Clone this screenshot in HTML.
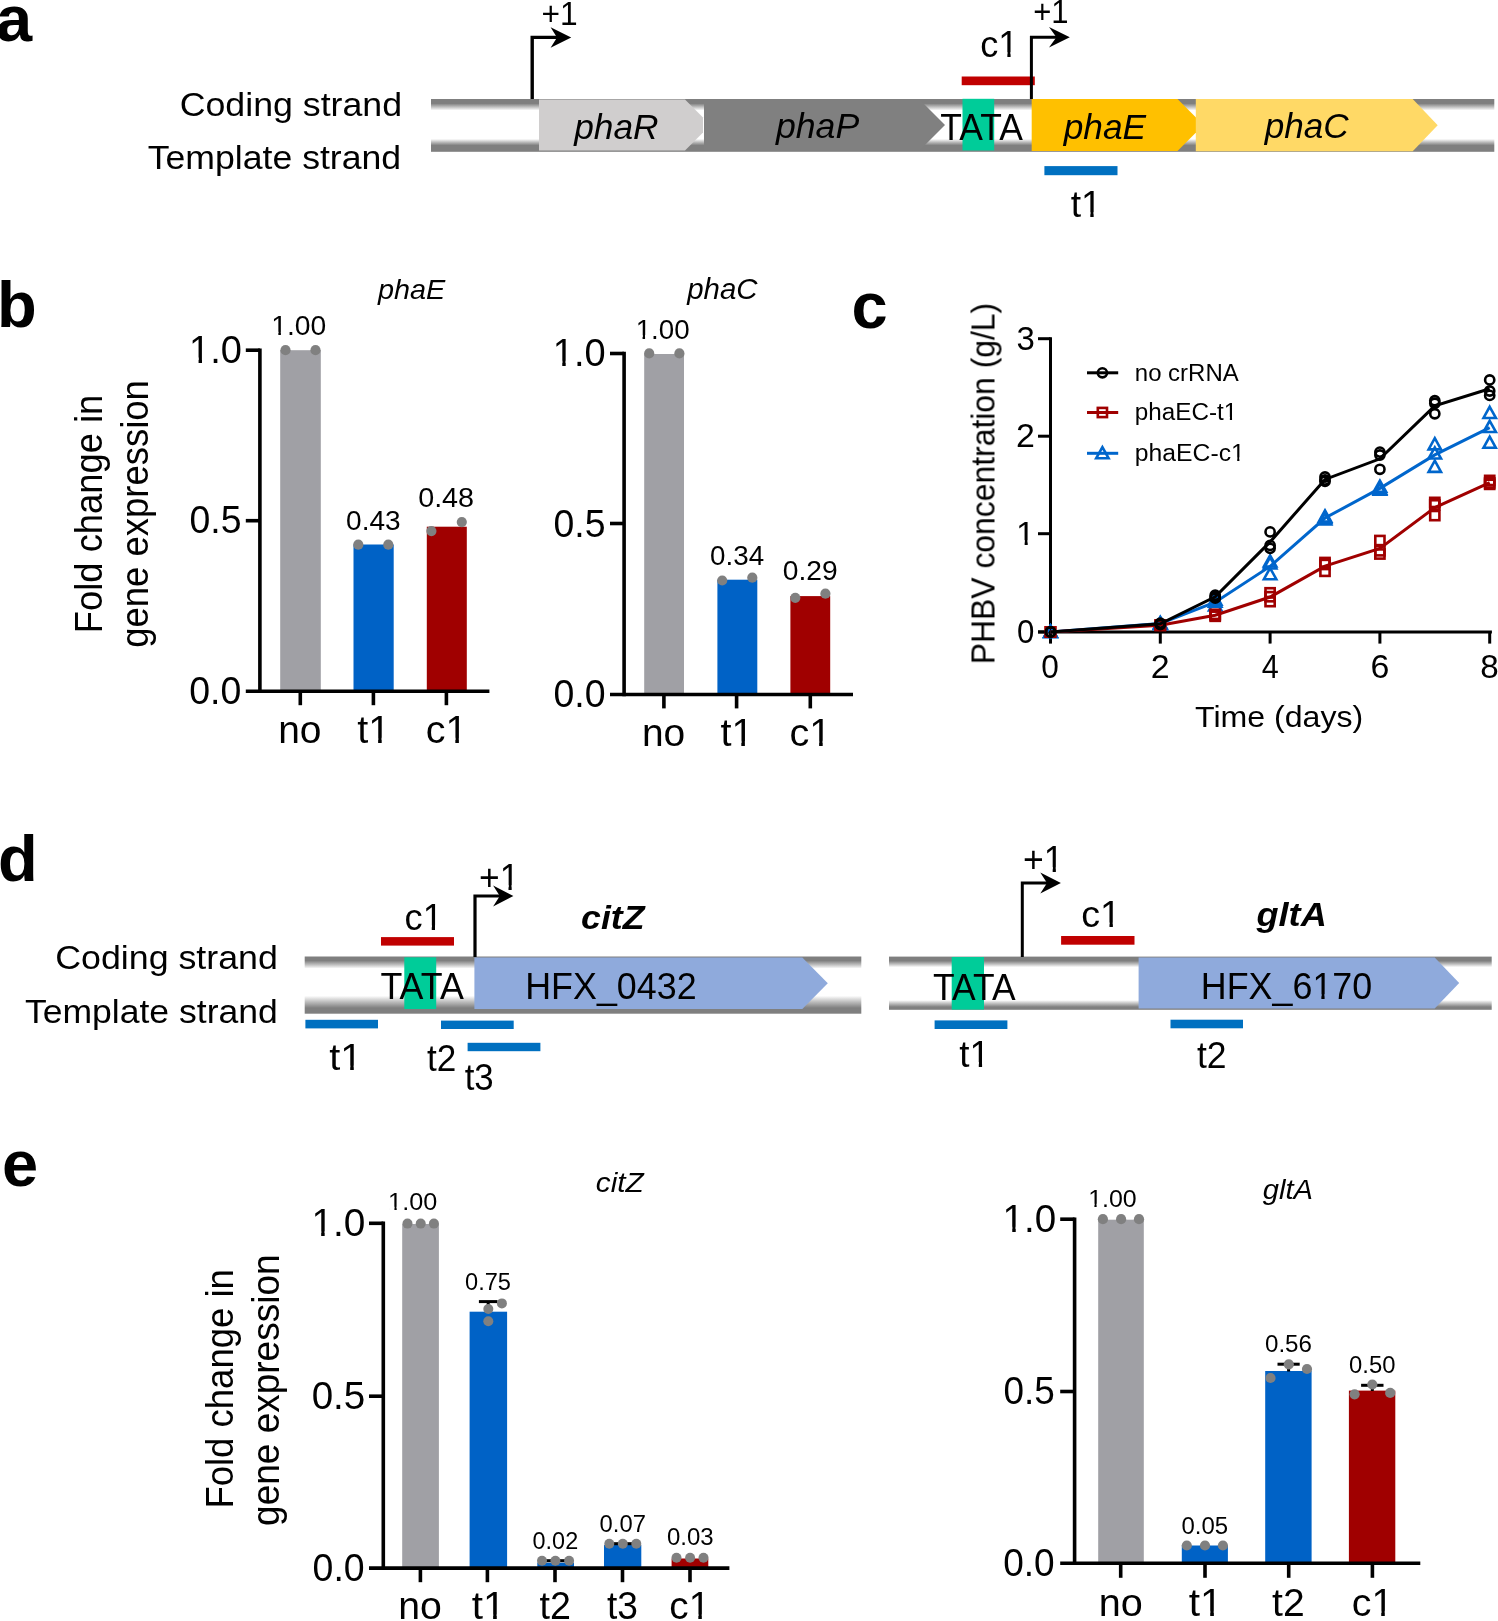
<!DOCTYPE html>
<html><head><meta charset="utf-8"><title>Figure</title>
<style>html,body{margin:0;padding:0;background:#fff;} svg{display:block;} text{font-family:"Liberation Sans",sans-serif;}</style>
</head><body>
<svg width="1498" height="1621" viewBox="0 0 1498 1621">
<defs><clipPath id="clipone0" clipPathUnits="userSpaceOnUse"><rect x="-5000.00" y="-5000.00" width="10000.00" height="4995.21"/><rect x="-5000.00" y="1.10" width="10000.00" height="5000.00"/><rect x="-5000.00" y="-4.79" width="5020.05" height="5.89"/><rect x="27.60" y="-4.79" width="3.31" height="5.89"/><rect x="38.65" y="-4.79" width="4961.35" height="5.89"/></clipPath><clipPath id="clipone1" clipPathUnits="userSpaceOnUse"><rect x="-5000.00" y="-5000.00" width="10000.00" height="4995.21"/><rect x="-5000.00" y="1.10" width="10000.00" height="5000.00"/><rect x="-5000.00" y="-4.79" width="5011.88" height="5.89"/><rect x="19.42" y="-4.79" width="3.31" height="5.89"/><rect x="30.47" y="-4.79" width="4969.53" height="5.89"/></clipPath><clipPath id="clipone2" clipPathUnits="userSpaceOnUse"><rect x="-5000.00" y="-5000.00" width="10000.00" height="4995.03"/><rect x="-5000.00" y="1.15" width="10000.00" height="5000.00"/><rect x="-5000.00" y="-4.97" width="5001.72" height="6.11"/><rect x="9.55" y="-4.97" width="3.44" height="6.11"/><rect x="21.01" y="-4.97" width="4978.99" height="6.11"/></clipPath><clipPath id="clipone3" clipPathUnits="userSpaceOnUse"><rect x="-5000.00" y="-5000.00" width="10000.00" height="4996.39"/><rect x="-5000.00" y="0.83" width="10000.00" height="5000.00"/><rect x="-5000.00" y="-3.61" width="5001.25" height="4.44"/><rect x="6.94" y="-3.61" width="2.50" height="4.44"/><rect x="15.27" y="-3.61" width="4984.73" height="4.44"/></clipPath><clipPath id="clipone4" clipPathUnits="userSpaceOnUse"><rect x="-5000.00" y="-5000.00" width="10000.00" height="4994.95"/><rect x="-5000.00" y="1.17" width="10000.00" height="5000.00"/><rect x="-5000.00" y="-5.05" width="5012.53" height="6.22"/><rect x="20.50" y="-5.05" width="3.50" height="6.22"/><rect x="32.16" y="-5.05" width="4967.84" height="6.22"/></clipPath><clipPath id="clipone5" clipPathUnits="userSpaceOnUse"><rect x="-5000.00" y="-5000.00" width="10000.00" height="4994.95"/><rect x="-5000.00" y="1.17" width="10000.00" height="5000.00"/><rect x="-5000.00" y="-5.05" width="5021.17" height="6.22"/><rect x="29.14" y="-5.05" width="3.50" height="6.22"/><rect x="40.80" y="-5.05" width="4959.20" height="6.22"/></clipPath><clipPath id="clipone6" clipPathUnits="userSpaceOnUse"><rect x="-5000.00" y="-5000.00" width="10000.00" height="4995.03"/><rect x="-5000.00" y="1.15" width="10000.00" height="5000.00"/><rect x="-5000.00" y="-4.97" width="5001.72" height="6.11"/><rect x="9.55" y="-4.97" width="3.44" height="6.11"/><rect x="21.01" y="-4.97" width="4978.99" height="6.11"/></clipPath><clipPath id="clipone7" clipPathUnits="userSpaceOnUse"><rect x="-5000.00" y="-5000.00" width="10000.00" height="4996.39"/><rect x="-5000.00" y="0.83" width="10000.00" height="5000.00"/><rect x="-5000.00" y="-3.61" width="5001.25" height="4.44"/><rect x="6.94" y="-3.61" width="2.50" height="4.44"/><rect x="15.27" y="-3.61" width="4984.73" height="4.44"/></clipPath><clipPath id="clipone8" clipPathUnits="userSpaceOnUse"><rect x="-5000.00" y="-5000.00" width="10000.00" height="4994.95"/><rect x="-5000.00" y="1.17" width="10000.00" height="5000.00"/><rect x="-5000.00" y="-5.05" width="5012.53" height="6.22"/><rect x="20.50" y="-5.05" width="3.50" height="6.22"/><rect x="32.16" y="-5.05" width="4967.84" height="6.22"/></clipPath><clipPath id="clipone9" clipPathUnits="userSpaceOnUse"><rect x="-5000.00" y="-5000.00" width="10000.00" height="4994.95"/><rect x="-5000.00" y="1.17" width="10000.00" height="5000.00"/><rect x="-5000.00" y="-5.05" width="5021.17" height="6.22"/><rect x="29.14" y="-5.05" width="3.50" height="6.22"/><rect x="40.80" y="-5.05" width="4959.20" height="6.22"/></clipPath><clipPath id="clipone10" clipPathUnits="userSpaceOnUse"><rect x="-5000.00" y="-5000.00" width="10000.00" height="4995.61"/><rect x="-5000.00" y="1.01" width="10000.00" height="5000.00"/><rect x="-5000.00" y="-4.39" width="5001.52" height="5.40"/><rect x="8.44" y="-4.39" width="3.04" height="5.40"/><rect x="18.56" y="-4.39" width="4981.44" height="5.40"/></clipPath><clipPath id="clipone11" clipPathUnits="userSpaceOnUse"><rect x="-5000.00" y="-5000.00" width="10000.00" height="4996.82"/><rect x="-5000.00" y="0.73" width="10000.00" height="5000.00"/><rect x="-5000.00" y="-3.18" width="5090.91" height="3.92"/><rect x="95.93" y="-3.18" width="2.20" height="3.92"/><rect x="103.28" y="-3.18" width="4896.72" height="3.92"/></clipPath><clipPath id="clipone12" clipPathUnits="userSpaceOnUse"><rect x="-5000.00" y="-5000.00" width="10000.00" height="4996.82"/><rect x="-5000.00" y="0.73" width="10000.00" height="5000.00"/><rect x="-5000.00" y="-3.18" width="5096.33" height="3.92"/><rect x="101.35" y="-3.18" width="2.20" height="3.92"/><rect x="108.70" y="-3.18" width="4891.30" height="3.92"/></clipPath><clipPath id="clipone13" clipPathUnits="userSpaceOnUse"><rect x="-5000.00" y="-5000.00" width="10000.00" height="4995.21"/><rect x="-5000.00" y="1.10" width="10000.00" height="5000.00"/><rect x="-5000.00" y="-4.79" width="5020.06" height="5.89"/><rect x="27.60" y="-4.79" width="3.31" height="5.89"/><rect x="38.65" y="-4.79" width="4961.35" height="5.89"/></clipPath><clipPath id="clipone14" clipPathUnits="userSpaceOnUse"><rect x="-5000.00" y="-5000.00" width="10000.00" height="4995.18"/><rect x="-5000.00" y="1.11" width="10000.00" height="5000.00"/><rect x="-5000.00" y="-4.82" width="5023.31" height="5.94"/><rect x="30.92" y="-4.82" width="3.34" height="5.94"/><rect x="42.05" y="-4.82" width="4957.95" height="5.94"/></clipPath><clipPath id="clipone15" clipPathUnits="userSpaceOnUse"><rect x="-5000.00" y="-5000.00" width="10000.00" height="4995.21"/><rect x="-5000.00" y="1.10" width="10000.00" height="5000.00"/><rect x="-5000.00" y="-4.79" width="5011.87" height="5.89"/><rect x="19.42" y="-4.79" width="3.31" height="5.89"/><rect x="30.46" y="-4.79" width="4969.54" height="5.89"/></clipPath><clipPath id="clipone16" clipPathUnits="userSpaceOnUse"><rect x="-5000.00" y="-5000.00" width="10000.00" height="4995.16"/><rect x="-5000.00" y="1.12" width="10000.00" height="5000.00"/><rect x="-5000.00" y="-4.84" width="5023.41" height="5.96"/><rect x="31.04" y="-4.84" width="3.35" height="5.96"/><rect x="42.22" y="-4.84" width="4957.78" height="5.96"/></clipPath><clipPath id="clipone17" clipPathUnits="userSpaceOnUse"><rect x="-5000.00" y="-5000.00" width="10000.00" height="4995.21"/><rect x="-5000.00" y="1.10" width="10000.00" height="5000.00"/><rect x="-5000.00" y="-4.79" width="5020.06" height="5.89"/><rect x="27.60" y="-4.79" width="3.31" height="5.89"/><rect x="38.65" y="-4.79" width="4961.35" height="5.89"/></clipPath><clipPath id="clipone18" clipPathUnits="userSpaceOnUse"><rect x="-5000.00" y="-5000.00" width="10000.00" height="4995.21"/><rect x="-5000.00" y="1.10" width="10000.00" height="5000.00"/><rect x="-5000.00" y="-4.79" width="5116.20" height="5.89"/><rect x="123.75" y="-4.79" width="3.31" height="5.89"/><rect x="134.79" y="-4.79" width="4865.21" height="5.89"/></clipPath><clipPath id="clipone19" clipPathUnits="userSpaceOnUse"><rect x="-5000.00" y="-5000.00" width="10000.00" height="4995.21"/><rect x="-5000.00" y="1.10" width="10000.00" height="5000.00"/><rect x="-5000.00" y="-4.79" width="5011.88" height="5.89"/><rect x="19.42" y="-4.79" width="3.31" height="5.89"/><rect x="30.47" y="-4.79" width="4969.53" height="5.89"/></clipPath><clipPath id="clipone20" clipPathUnits="userSpaceOnUse"><rect x="-5000.00" y="-5000.00" width="10000.00" height="4995.03"/><rect x="-5000.00" y="1.15" width="10000.00" height="5000.00"/><rect x="-5000.00" y="-4.97" width="5001.72" height="6.11"/><rect x="9.55" y="-4.97" width="3.44" height="6.11"/><rect x="21.01" y="-4.97" width="4978.99" height="6.11"/></clipPath><clipPath id="clipone21" clipPathUnits="userSpaceOnUse"><rect x="-5000.00" y="-5000.00" width="10000.00" height="4996.93"/><rect x="-5000.00" y="0.71" width="10000.00" height="5000.00"/><rect x="-5000.00" y="-3.07" width="5001.06" height="3.78"/><rect x="5.90" y="-3.07" width="2.13" height="3.78"/><rect x="12.99" y="-3.07" width="4987.01" height="3.78"/></clipPath><clipPath id="clipone22" clipPathUnits="userSpaceOnUse"><rect x="-5000.00" y="-5000.00" width="10000.00" height="4994.95"/><rect x="-5000.00" y="1.17" width="10000.00" height="5000.00"/><rect x="-5000.00" y="-5.05" width="5012.54" height="6.22"/><rect x="20.51" y="-5.05" width="3.50" height="6.22"/><rect x="32.17" y="-5.05" width="4967.83" height="6.22"/></clipPath><clipPath id="clipone23" clipPathUnits="userSpaceOnUse"><rect x="-5000.00" y="-5000.00" width="10000.00" height="4994.95"/><rect x="-5000.00" y="1.17" width="10000.00" height="5000.00"/><rect x="-5000.00" y="-5.05" width="5021.18" height="6.22"/><rect x="29.14" y="-5.05" width="3.50" height="6.22"/><rect x="40.80" y="-5.05" width="4959.20" height="6.22"/></clipPath><clipPath id="clipone24" clipPathUnits="userSpaceOnUse"><rect x="-5000.00" y="-5000.00" width="10000.00" height="4995.03"/><rect x="-5000.00" y="1.15" width="10000.00" height="5000.00"/><rect x="-5000.00" y="-4.97" width="5001.72" height="6.11"/><rect x="9.55" y="-4.97" width="3.44" height="6.11"/><rect x="21.01" y="-4.97" width="4978.99" height="6.11"/></clipPath><clipPath id="clipone25" clipPathUnits="userSpaceOnUse"><rect x="-5000.00" y="-5000.00" width="10000.00" height="4996.93"/><rect x="-5000.00" y="0.71" width="10000.00" height="5000.00"/><rect x="-5000.00" y="-3.07" width="5001.06" height="3.78"/><rect x="5.90" y="-3.07" width="2.13" height="3.78"/><rect x="12.99" y="-3.07" width="4987.01" height="3.78"/></clipPath><clipPath id="clipone26" clipPathUnits="userSpaceOnUse"><rect x="-5000.00" y="-5000.00" width="10000.00" height="4994.95"/><rect x="-5000.00" y="1.17" width="10000.00" height="5000.00"/><rect x="-5000.00" y="-5.05" width="5012.54" height="6.22"/><rect x="20.51" y="-5.05" width="3.50" height="6.22"/><rect x="32.17" y="-5.05" width="4967.83" height="6.22"/></clipPath><clipPath id="clipone27" clipPathUnits="userSpaceOnUse"><rect x="-5000.00" y="-5000.00" width="10000.00" height="4994.95"/><rect x="-5000.00" y="1.17" width="10000.00" height="5000.00"/><rect x="-5000.00" y="-5.05" width="5021.17" height="6.22"/><rect x="29.14" y="-5.05" width="3.50" height="6.22"/><rect x="40.80" y="-5.05" width="4959.20" height="6.22"/></clipPath><linearGradient id="gt1" x1="0" y1="0" x2="0" y2="1"><stop offset="0" stop-color="#7f7f7f"/><stop offset="0.39" stop-color="#7f7f7f"/><stop offset="0.69" stop-color="#bdbdbd"/><stop offset="1" stop-color="#fff"/></linearGradient><linearGradient id="gb1" x1="0" y1="0" x2="0" y2="1"><stop offset="0" stop-color="#fff"/><stop offset="0.25" stop-color="#bdbdbd"/><stop offset="0.5" stop-color="#7f7f7f"/><stop offset="1" stop-color="#7f7f7f"/></linearGradient><linearGradient id="gt2" x1="0" y1="0" x2="0" y2="1"><stop offset="0" stop-color="#7f7f7f"/><stop offset="0.34" stop-color="#7f7f7f"/><stop offset="0.67" stop-color="#bdbdbd"/><stop offset="1" stop-color="#fff"/></linearGradient><linearGradient id="gb2" x1="0" y1="0" x2="0" y2="1"><stop offset="0" stop-color="#fff"/><stop offset="0.34" stop-color="#bdbdbd"/><stop offset="0.68" stop-color="#7f7f7f"/><stop offset="1" stop-color="#7f7f7f"/></linearGradient><linearGradient id="gt3" x1="0" y1="0" x2="0" y2="1"><stop offset="0" stop-color="#7f7f7f"/><stop offset="0.4" stop-color="#7f7f7f"/><stop offset="0.7" stop-color="#bdbdbd"/><stop offset="1" stop-color="#fff"/></linearGradient><linearGradient id="gb3" x1="0" y1="0" x2="0" y2="1"><stop offset="0" stop-color="#fff"/><stop offset="0.36" stop-color="#bdbdbd"/><stop offset="0.71" stop-color="#7f7f7f"/><stop offset="1" stop-color="#7f7f7f"/></linearGradient></defs>
<rect width="1498" height="1621" fill="#fff"/>
<rect x="431" y="99" width="1063.3" height="11.4" fill="url(#gt1)"/>
<rect x="431" y="138.9" width="1063.3" height="12.9" fill="url(#gb1)"/>
<polygon points="539,99.5 685,99.5 703,117.5 703,132.5 685,150.5 539,150.5" fill="#d0cece"/>
<polygon points="704,99.5 919.5,99.5 945,125 919.5,150.5 704,150.5" fill="#808080"/>
<rect x="962.5" y="98.8" width="31.7" height="51.7" fill="#00cc99"/>
<polygon points="1031.7,99.1 1177.5,99.1 1196,117.6 1196,132.6 1177.5,151.1 1031.7,151.1" fill="#ffc000"/>
<polygon points="1195.8,99.1 1412.7,99.1 1437.7,125.2 1412.7,151.3 1195.8,151.3" fill="#ffd966"/>
<rect x="961.7" y="76.5" width="73.1" height="8.7" fill="#c00000"/>
<rect x="1044.4" y="166.1" width="73.1" height="9.1" fill="#0070c0"/>
<path d="M532.2,99 V37.4 H558" fill="none" stroke="#000" stroke-width="3.4" stroke-linejoin="miter"/>
<polygon points="550.6,27.15 571.2,37.4 550.6,47.65 557,37.4" fill="#000"/>
<path d="M1031.4,99 V37.3 H1057.4" fill="none" stroke="#000" stroke-width="3" stroke-linejoin="miter"/>
<polygon points="1049,27.1 1069.8,37.3 1049,47.5 1056.4,37.3" fill="#000"/>
<rect x="280.2" y="350.2" width="40.6" height="341.1" fill="#a0a0a5"/>
<rect x="353.5" y="544.5" width="40.2" height="146.8" fill="#0062c6"/>
<rect x="426.8" y="526.7" width="40" height="164.6" fill="#a00000"/>
<circle cx="285.5" cy="350.2" r="5.1" fill="#808080"/>
<circle cx="315.5" cy="350.2" r="5.1" fill="#808080"/>
<circle cx="358.3" cy="544.7" r="5.1" fill="#808080"/>
<circle cx="388.3" cy="544.7" r="5.1" fill="#808080"/>
<circle cx="431.4" cy="531.1" r="5.1" fill="#808080"/>
<circle cx="461.8" cy="522.1" r="5.1" fill="#808080"/>
<line x1="259.9" y1="348.4" x2="259.9" y2="693.1" stroke="#000" stroke-width="3.6" stroke-linecap="butt"/>
<line x1="245.8" y1="691.3" x2="489.4" y2="691.3" stroke="#000" stroke-width="3.6" stroke-linecap="butt"/>
<line x1="245.8" y1="350.2" x2="259.9" y2="350.2" stroke="#000" stroke-width="3.6" stroke-linecap="butt"/>
<line x1="245.8" y1="520.7" x2="259.9" y2="520.7" stroke="#000" stroke-width="3.6" stroke-linecap="butt"/>
<line x1="300.3" y1="691.3" x2="300.3" y2="705.2" stroke="#000" stroke-width="3.6" stroke-linecap="butt"/>
<line x1="373.4" y1="691.3" x2="373.4" y2="705.2" stroke="#000" stroke-width="3.6" stroke-linecap="butt"/>
<line x1="446.4" y1="691.3" x2="446.4" y2="705.2" stroke="#000" stroke-width="3.6" stroke-linecap="butt"/>
<rect x="644.2" y="354" width="39.8" height="340.5" fill="#a0a0a5"/>
<rect x="717.4" y="579.7" width="39.9" height="114.8" fill="#0062c6"/>
<rect x="790.4" y="596.1" width="39.8" height="98.4" fill="#a00000"/>
<circle cx="649.2" cy="353.4" r="5.1" fill="#808080"/>
<circle cx="679.4" cy="353.4" r="5.1" fill="#808080"/>
<circle cx="722.2" cy="580.5" r="5.1" fill="#808080"/>
<circle cx="752.3" cy="577.7" r="5.1" fill="#808080"/>
<circle cx="795.3" cy="597.8" r="5.1" fill="#808080"/>
<circle cx="825.4" cy="593.7" r="5.1" fill="#808080"/>
<line x1="624.1" y1="351.7" x2="624.1" y2="696.3" stroke="#000" stroke-width="3.6" stroke-linecap="butt"/>
<line x1="610" y1="694.5" x2="853" y2="694.5" stroke="#000" stroke-width="3.6" stroke-linecap="butt"/>
<line x1="610" y1="353.5" x2="624.1" y2="353.5" stroke="#000" stroke-width="3.6" stroke-linecap="butt"/>
<line x1="610" y1="523.5" x2="624.1" y2="523.5" stroke="#000" stroke-width="3.6" stroke-linecap="butt"/>
<line x1="663.9" y1="694.5" x2="663.9" y2="708.4" stroke="#000" stroke-width="3.6" stroke-linecap="butt"/>
<line x1="736.6" y1="694.5" x2="736.6" y2="708.4" stroke="#000" stroke-width="3.6" stroke-linecap="butt"/>
<line x1="810.3" y1="694.5" x2="810.3" y2="708.4" stroke="#000" stroke-width="3.6" stroke-linecap="butt"/>
<line x1="1050.5" y1="337.2" x2="1050.5" y2="633.4" stroke="#000" stroke-width="3" stroke-linecap="butt"/>
<line x1="1038" y1="631.9" x2="1491.9" y2="631.9" stroke="#000" stroke-width="3" stroke-linecap="butt"/>
<line x1="1038" y1="338.7" x2="1050.5" y2="338.7" stroke="#000" stroke-width="3" stroke-linecap="butt"/>
<line x1="1038" y1="436.2" x2="1050.5" y2="436.2" stroke="#000" stroke-width="3" stroke-linecap="butt"/>
<line x1="1038" y1="533.7" x2="1050.5" y2="533.7" stroke="#000" stroke-width="3" stroke-linecap="butt"/>
<line x1="1038" y1="631.9" x2="1050.5" y2="631.9" stroke="#000" stroke-width="3" stroke-linecap="butt"/>
<line x1="1050.5" y1="631.9" x2="1050.5" y2="643.6" stroke="#000" stroke-width="3" stroke-linecap="butt"/>
<line x1="1160.3" y1="631.9" x2="1160.3" y2="643.6" stroke="#000" stroke-width="3" stroke-linecap="butt"/>
<line x1="1270.1" y1="631.9" x2="1270.1" y2="643.6" stroke="#000" stroke-width="3" stroke-linecap="butt"/>
<line x1="1379.9" y1="631.9" x2="1379.9" y2="643.6" stroke="#000" stroke-width="3" stroke-linecap="butt"/>
<line x1="1489.7" y1="631.9" x2="1489.7" y2="643.6" stroke="#000" stroke-width="3" stroke-linecap="butt"/>
<polyline points="1050.5,631.9 1160.3,623.59 1215.2,602.26 1270.1,566.42 1325,518.04 1379.9,488.4 1434.8,454.91 1489.7,427.58" fill="none" stroke="#0066cc" stroke-width="3" stroke-linejoin="miter"/>
<polygon points="1050.5,625.7 1056.7,636.9 1044.3,636.9" fill="none" stroke="#0066cc" stroke-width="2.6" stroke-linejoin="miter"/>
<polygon points="1050.5,625.7 1056.7,636.9 1044.3,636.9" fill="none" stroke="#0066cc" stroke-width="2.6" stroke-linejoin="miter"/>
<polygon points="1050.5,625.7 1056.7,636.9 1044.3,636.9" fill="none" stroke="#0066cc" stroke-width="2.6" stroke-linejoin="miter"/>
<polygon points="1160.3,616.9 1166.5,628.1 1154.1,628.1" fill="none" stroke="#0066cc" stroke-width="2.6" stroke-linejoin="miter"/>
<polygon points="1160.3,617.39 1166.5,628.59 1154.1,628.59" fill="none" stroke="#0066cc" stroke-width="2.6" stroke-linejoin="miter"/>
<polygon points="1160.3,617.88 1166.5,629.08 1154.1,629.08" fill="none" stroke="#0066cc" stroke-width="2.6" stroke-linejoin="miter"/>
<polygon points="1215.2,593.45 1221.4,604.65 1209,604.65" fill="none" stroke="#0066cc" stroke-width="2.6" stroke-linejoin="miter"/>
<polygon points="1215.2,595.4 1221.4,606.6 1209,606.6" fill="none" stroke="#0066cc" stroke-width="2.6" stroke-linejoin="miter"/>
<polygon points="1215.2,599.31 1221.4,610.51 1209,610.51" fill="none" stroke="#0066cc" stroke-width="2.6" stroke-linejoin="miter"/>
<polygon points="1270.1,555.33 1276.3,566.53 1263.9,566.53" fill="none" stroke="#0066cc" stroke-width="2.6" stroke-linejoin="miter"/>
<polygon points="1270.1,557.29 1276.3,568.49 1263.9,568.49" fill="none" stroke="#0066cc" stroke-width="2.6" stroke-linejoin="miter"/>
<polygon points="1270.1,568.04 1276.3,579.24 1263.9,579.24" fill="none" stroke="#0066cc" stroke-width="2.6" stroke-linejoin="miter"/>
<polygon points="1325,510.38 1331.2,521.58 1318.8,521.58" fill="none" stroke="#0066cc" stroke-width="2.6" stroke-linejoin="miter"/>
<polygon points="1325,511.84 1331.2,523.04 1318.8,523.04" fill="none" stroke="#0066cc" stroke-width="2.6" stroke-linejoin="miter"/>
<polygon points="1325,513.31 1331.2,524.51 1318.8,524.51" fill="none" stroke="#0066cc" stroke-width="2.6" stroke-linejoin="miter"/>
<polygon points="1379.9,480.57 1386.1,491.77 1373.7,491.77" fill="none" stroke="#0066cc" stroke-width="2.6" stroke-linejoin="miter"/>
<polygon points="1379.9,482.53 1386.1,493.73 1373.7,493.73" fill="none" stroke="#0066cc" stroke-width="2.6" stroke-linejoin="miter"/>
<polygon points="1379.9,483.5 1386.1,494.7 1373.7,494.7" fill="none" stroke="#0066cc" stroke-width="2.6" stroke-linejoin="miter"/>
<polygon points="1434.8,438.16 1441,449.36 1428.6,449.36" fill="none" stroke="#0066cc" stroke-width="2.6" stroke-linejoin="miter"/>
<polygon points="1434.8,447.34 1441,458.54 1428.6,458.54" fill="none" stroke="#0066cc" stroke-width="2.6" stroke-linejoin="miter"/>
<polygon points="1434.8,460.63 1441,471.83 1428.6,471.83" fill="none" stroke="#0066cc" stroke-width="2.6" stroke-linejoin="miter"/>
<polygon points="1489.7,406.78 1495.9,417.98 1483.5,417.98" fill="none" stroke="#0066cc" stroke-width="2.6" stroke-linejoin="miter"/>
<polygon points="1489.7,420.76 1495.9,431.96 1483.5,431.96" fill="none" stroke="#0066cc" stroke-width="2.6" stroke-linejoin="miter"/>
<polygon points="1489.7,436.59 1495.9,447.79 1483.5,447.79" fill="none" stroke="#0066cc" stroke-width="2.6" stroke-linejoin="miter"/>
<polyline points="1050.5,631.9 1160.3,625.22 1215.2,615.29 1270.1,597.04 1325,566.1 1379.9,548.44 1434.8,507.62 1489.7,482.54" fill="none" stroke="#a00000" stroke-width="3" stroke-linejoin="miter"/>
<rect x="1045.9" y="627.3" width="9.2" height="9.2" fill="none" stroke="#a00000" stroke-width="2.6"/>
<rect x="1045.9" y="627.3" width="9.2" height="9.2" fill="none" stroke="#a00000" stroke-width="2.6"/>
<rect x="1045.9" y="627.3" width="9.2" height="9.2" fill="none" stroke="#a00000" stroke-width="2.6"/>
<rect x="1155.7" y="620.46" width="9.2" height="9.2" fill="none" stroke="#a00000" stroke-width="2.6"/>
<rect x="1155.7" y="620.46" width="9.2" height="9.2" fill="none" stroke="#a00000" stroke-width="2.6"/>
<rect x="1155.7" y="620.95" width="9.2" height="9.2" fill="none" stroke="#a00000" stroke-width="2.6"/>
<rect x="1210.6" y="609.71" width="9.2" height="9.2" fill="none" stroke="#a00000" stroke-width="2.6"/>
<rect x="1210.6" y="610.69" width="9.2" height="9.2" fill="none" stroke="#a00000" stroke-width="2.6"/>
<rect x="1210.6" y="611.66" width="9.2" height="9.2" fill="none" stroke="#a00000" stroke-width="2.6"/>
<rect x="1265.5" y="588.21" width="9.2" height="9.2" fill="none" stroke="#a00000" stroke-width="2.6"/>
<rect x="1265.5" y="592.12" width="9.2" height="9.2" fill="none" stroke="#a00000" stroke-width="2.6"/>
<rect x="1265.5" y="597" width="9.2" height="9.2" fill="none" stroke="#a00000" stroke-width="2.6"/>
<rect x="1320.4" y="557.91" width="9.2" height="9.2" fill="none" stroke="#a00000" stroke-width="2.6"/>
<rect x="1320.4" y="559.87" width="9.2" height="9.2" fill="none" stroke="#a00000" stroke-width="2.6"/>
<rect x="1320.4" y="566.71" width="9.2" height="9.2" fill="none" stroke="#a00000" stroke-width="2.6"/>
<rect x="1375.3" y="535.92" width="9.2" height="9.2" fill="none" stroke="#a00000" stroke-width="2.6"/>
<rect x="1375.3" y="546.18" width="9.2" height="9.2" fill="none" stroke="#a00000" stroke-width="2.6"/>
<rect x="1375.3" y="549.41" width="9.2" height="9.2" fill="none" stroke="#a00000" stroke-width="2.6"/>
<rect x="1430.2" y="497.81" width="9.2" height="9.2" fill="none" stroke="#a00000" stroke-width="2.6"/>
<rect x="1430.2" y="500.25" width="9.2" height="9.2" fill="none" stroke="#a00000" stroke-width="2.6"/>
<rect x="1430.2" y="511" width="9.2" height="9.2" fill="none" stroke="#a00000" stroke-width="2.6"/>
<rect x="1485.1" y="475.82" width="9.2" height="9.2" fill="none" stroke="#a00000" stroke-width="2.6"/>
<rect x="1485.1" y="478.26" width="9.2" height="9.2" fill="none" stroke="#a00000" stroke-width="2.6"/>
<rect x="1485.1" y="479.73" width="9.2" height="9.2" fill="none" stroke="#a00000" stroke-width="2.6"/>
<polyline points="1050.5,631.9 1160.3,623.82 1215.2,596.88 1270.1,541.89 1325,479.44 1379.9,458.79 1434.8,405.92 1489.7,388.78" fill="none" stroke="#000" stroke-width="3" stroke-linejoin="miter"/>
<circle cx="1050.5" cy="631.9" r="4.6" fill="none" stroke="#000" stroke-width="2.6"/>
<circle cx="1050.5" cy="631.9" r="4.6" fill="none" stroke="#000" stroke-width="2.6"/>
<circle cx="1050.5" cy="631.9" r="4.6" fill="none" stroke="#000" stroke-width="2.6"/>
<circle cx="1160.3" cy="624.57" r="4.6" fill="none" stroke="#000" stroke-width="2.6"/>
<circle cx="1160.3" cy="623.1" r="4.6" fill="none" stroke="#000" stroke-width="2.6"/>
<circle cx="1160.3" cy="623.79" r="4.6" fill="none" stroke="#000" stroke-width="2.6"/>
<circle cx="1215.2" cy="595.25" r="4.6" fill="none" stroke="#000" stroke-width="2.6"/>
<circle cx="1215.2" cy="597.21" r="4.6" fill="none" stroke="#000" stroke-width="2.6"/>
<circle cx="1215.2" cy="598.18" r="4.6" fill="none" stroke="#000" stroke-width="2.6"/>
<circle cx="1270.1" cy="531.92" r="4.6" fill="none" stroke="#000" stroke-width="2.6"/>
<circle cx="1270.1" cy="545.41" r="4.6" fill="none" stroke="#000" stroke-width="2.6"/>
<circle cx="1270.1" cy="548.34" r="4.6" fill="none" stroke="#000" stroke-width="2.6"/>
<circle cx="1325" cy="477" r="4.6" fill="none" stroke="#000" stroke-width="2.6"/>
<circle cx="1325" cy="479.93" r="4.6" fill="none" stroke="#000" stroke-width="2.6"/>
<circle cx="1325" cy="481.4" r="4.6" fill="none" stroke="#000" stroke-width="2.6"/>
<circle cx="1379.9" cy="452.08" r="4.6" fill="none" stroke="#000" stroke-width="2.6"/>
<circle cx="1379.9" cy="455.01" r="4.6" fill="none" stroke="#000" stroke-width="2.6"/>
<circle cx="1379.9" cy="469.28" r="4.6" fill="none" stroke="#000" stroke-width="2.6"/>
<circle cx="1434.8" cy="400.77" r="4.6" fill="none" stroke="#000" stroke-width="2.6"/>
<circle cx="1434.8" cy="403.21" r="4.6" fill="none" stroke="#000" stroke-width="2.6"/>
<circle cx="1434.8" cy="413.77" r="4.6" fill="none" stroke="#000" stroke-width="2.6"/>
<circle cx="1489.7" cy="379.95" r="4.6" fill="none" stroke="#000" stroke-width="2.6"/>
<circle cx="1489.7" cy="391" r="4.6" fill="none" stroke="#000" stroke-width="2.6"/>
<circle cx="1489.7" cy="395.39" r="4.6" fill="none" stroke="#000" stroke-width="2.6"/>
<line x1="1087" y1="372.8" x2="1118.2" y2="372.8" stroke="#000" stroke-width="3" stroke-linecap="butt"/>
<circle cx="1102.4" cy="372.8" r="4.6" fill="none" stroke="#000" stroke-width="2.6"/>
<line x1="1087" y1="412.5" x2="1118.2" y2="412.5" stroke="#a00000" stroke-width="3" stroke-linecap="butt"/>
<rect x="1097.8" y="407.9" width="9.2" height="9.2" fill="none" stroke="#a00000" stroke-width="2.6"/>
<line x1="1087" y1="453.3" x2="1118.2" y2="453.3" stroke="#0066cc" stroke-width="3" stroke-linecap="butt"/>
<polygon points="1102.4,447.1 1108.6,458.3 1096.2,458.3" fill="none" stroke="#0066cc" stroke-width="2.6" stroke-linejoin="miter"/>
<rect x="304.7" y="956.5" width="556.6" height="12.1" fill="url(#gt2)"/>
<rect x="304.7" y="995.8" width="556.6" height="17.9" fill="url(#gb2)"/>
<rect x="404.3" y="957.3" width="31.9" height="51.7" fill="#00cc99"/>
<polygon points="474.4,957.5 802.3,957.5 827.8,983.2 802.3,1009 474.4,1009" fill="#8faadc"/>
<rect x="381" y="937.1" width="73" height="8.5" fill="#c00000"/>
<rect x="305.4" y="1019.8" width="72.6" height="8.6" fill="#0070c0"/>
<rect x="441" y="1020.6" width="72.7" height="8.4" fill="#0070c0"/>
<rect x="467.6" y="1042.8" width="72.8" height="8.4" fill="#0070c0"/>
<path d="M475,957 V896 H500.8" fill="none" stroke="#000" stroke-width="3.2" stroke-linejoin="miter"/>
<polygon points="493.1,885.55 513.4,896 493.1,906.45 499.8,896" fill="#000"/>
<rect x="889" y="956.6" width="602.7" height="10.6" fill="url(#gt3)"/>
<rect x="889" y="1000.1" width="602.7" height="9.7" fill="url(#gb3)"/>
<rect x="951.7" y="957" width="32.3" height="52.6" fill="#00cc99"/>
<polygon points="1138.6,957.5 1434.7,957.5 1459.2,982.9 1434.7,1008.6 1138.6,1008.6" fill="#8faadc"/>
<rect x="1061.1" y="936" width="73.4" height="8.7" fill="#c00000"/>
<rect x="934.6" y="1020.4" width="72.8" height="8.6" fill="#0070c0"/>
<rect x="1170.5" y="1019.7" width="72.5" height="8.6" fill="#0070c0"/>
<path d="M1022.3,957 V883 H1048" fill="none" stroke="#000" stroke-width="3" stroke-linejoin="miter"/>
<polygon points="1040.3,872.6 1060.9,883 1040.3,893.4 1047,883" fill="#000"/>
<rect x="402.2" y="1224" width="36.7" height="344.1" fill="#a0a0a5"/>
<rect x="469.6" y="1311.7" width="37.5" height="256.4" fill="#0062c6"/>
<rect x="537.3" y="1562.7" width="36.7" height="5.4" fill="#0062c6"/>
<rect x="604" y="1545" width="37.3" height="23.1" fill="#0062c6"/>
<rect x="671.6" y="1558.5" width="36.7" height="9.6" fill="#a00000"/>
<line x1="478.9" y1="1301.6" x2="497.5" y2="1301.6" stroke="#000" stroke-width="3" stroke-linecap="butt"/>
<line x1="488.2" y1="1301.6" x2="488.2" y2="1312" stroke="#000" stroke-width="3" stroke-linecap="butt"/>
<line x1="545" y1="1560.7" x2="566" y2="1560.7" stroke="#000" stroke-width="3" stroke-linecap="butt"/>
<line x1="612" y1="1543.7" x2="634" y2="1543.7" stroke="#000" stroke-width="3" stroke-linecap="butt"/>
<circle cx="407.5" cy="1223.6" r="5" fill="#808080"/>
<circle cx="420.7" cy="1223.6" r="5" fill="#808080"/>
<circle cx="433.9" cy="1223.6" r="5" fill="#808080"/>
<circle cx="501.9" cy="1303.4" r="5" fill="#808080"/>
<circle cx="488.3" cy="1309" r="5" fill="#808080"/>
<circle cx="488.3" cy="1321.3" r="5" fill="#808080"/>
<circle cx="542" cy="1560.7" r="5" fill="#808080"/>
<circle cx="555.4" cy="1560.7" r="5" fill="#808080"/>
<circle cx="569.1" cy="1560.7" r="5" fill="#808080"/>
<circle cx="609.3" cy="1543.7" r="5" fill="#808080"/>
<circle cx="622.8" cy="1543.7" r="5" fill="#808080"/>
<circle cx="636.3" cy="1543.7" r="5" fill="#808080"/>
<circle cx="676.5" cy="1557.7" r="5" fill="#808080"/>
<circle cx="690.1" cy="1557.7" r="5" fill="#808080"/>
<circle cx="703.5" cy="1557.7" r="5" fill="#808080"/>
<line x1="383.3" y1="1221.5" x2="383.3" y2="1569.9" stroke="#000" stroke-width="3.6" stroke-linecap="butt"/>
<line x1="369" y1="1568.1" x2="729.4" y2="1568.1" stroke="#000" stroke-width="3.6" stroke-linecap="butt"/>
<line x1="369" y1="1223.3" x2="383.3" y2="1223.3" stroke="#000" stroke-width="3.6" stroke-linecap="butt"/>
<line x1="369" y1="1396.2" x2="383.3" y2="1396.2" stroke="#000" stroke-width="3.6" stroke-linecap="butt"/>
<line x1="420.4" y1="1568.1" x2="420.4" y2="1582.2" stroke="#000" stroke-width="3.6" stroke-linecap="butt"/>
<line x1="487.4" y1="1568.1" x2="487.4" y2="1582.2" stroke="#000" stroke-width="3.6" stroke-linecap="butt"/>
<line x1="555" y1="1568.1" x2="555" y2="1582.2" stroke="#000" stroke-width="3.6" stroke-linecap="butt"/>
<line x1="622.5" y1="1568.1" x2="622.5" y2="1582.2" stroke="#000" stroke-width="3.6" stroke-linecap="butt"/>
<line x1="690" y1="1568.1" x2="690" y2="1582.2" stroke="#000" stroke-width="3.6" stroke-linecap="butt"/>
<rect x="1098.2" y="1219.7" width="45.6" height="343.5" fill="#a0a0a5"/>
<rect x="1181.8" y="1545.5" width="46.1" height="17.7" fill="#0062c6"/>
<rect x="1265.2" y="1371" width="46.4" height="192.2" fill="#0062c6"/>
<rect x="1348.9" y="1390.6" width="46.4" height="172.6" fill="#a00000"/>
<line x1="1277.5" y1="1364.2" x2="1299.7" y2="1364.2" stroke="#000" stroke-width="3" stroke-linecap="butt"/>
<line x1="1288.6" y1="1364.2" x2="1288.6" y2="1371.5" stroke="#000" stroke-width="3" stroke-linecap="butt"/>
<line x1="1361.1" y1="1385.3" x2="1383.5" y2="1385.3" stroke="#000" stroke-width="3" stroke-linecap="butt"/>
<line x1="1372.3" y1="1385.3" x2="1372.3" y2="1391" stroke="#000" stroke-width="3" stroke-linecap="butt"/>
<circle cx="1102.9" cy="1219.2" r="5.1" fill="#808080"/>
<circle cx="1121.1" cy="1219.2" r="5.1" fill="#808080"/>
<circle cx="1139" cy="1219.2" r="5.1" fill="#808080"/>
<circle cx="1186.8" cy="1545.5" r="5.1" fill="#808080"/>
<circle cx="1205" cy="1545.5" r="5.1" fill="#808080"/>
<circle cx="1222.9" cy="1545.5" r="5.1" fill="#808080"/>
<circle cx="1270.5" cy="1378" r="5.1" fill="#808080"/>
<circle cx="1288.8" cy="1364.3" r="5.1" fill="#808080"/>
<circle cx="1307" cy="1369" r="5.1" fill="#808080"/>
<circle cx="1354.6" cy="1394.3" r="5.1" fill="#808080"/>
<circle cx="1372.3" cy="1384.5" r="5.1" fill="#808080"/>
<circle cx="1390.2" cy="1392.9" r="5.1" fill="#808080"/>
<line x1="1074.6" y1="1217.4" x2="1074.6" y2="1565" stroke="#000" stroke-width="3.6" stroke-linecap="butt"/>
<line x1="1060.2" y1="1563.2" x2="1420.3" y2="1563.2" stroke="#000" stroke-width="3.6" stroke-linecap="butt"/>
<line x1="1060.2" y1="1219.2" x2="1074.6" y2="1219.2" stroke="#000" stroke-width="3.6" stroke-linecap="butt"/>
<line x1="1060.2" y1="1391.5" x2="1074.6" y2="1391.5" stroke="#000" stroke-width="3.6" stroke-linecap="butt"/>
<line x1="1120.7" y1="1563.2" x2="1120.7" y2="1577.8" stroke="#000" stroke-width="3.6" stroke-linecap="butt"/>
<line x1="1205" y1="1563.2" x2="1205" y2="1577.8" stroke="#000" stroke-width="3.6" stroke-linecap="butt"/>
<line x1="1288.7" y1="1563.2" x2="1288.7" y2="1577.8" stroke="#000" stroke-width="3.6" stroke-linecap="butt"/>
<line x1="1372.4" y1="1563.2" x2="1372.4" y2="1577.8" stroke="#000" stroke-width="3.6" stroke-linecap="butt"/>
<g opacity="0.999" fill="#000" font-family="'Liberation Sans', sans-serif">
<text transform="translate(-3.9,40.7)" font-size="65" font-weight="bold">a</text>
<text transform="translate(-3.05,327.4)" font-size="65" font-weight="bold">b</text>
<text transform="translate(851.48,328.2)" font-size="65" font-weight="bold">c</text>
<text transform="translate(-2.1,880.7)" font-size="65" font-weight="bold">d</text>
<text transform="translate(1.95,1186.4)" font-size="65" font-weight="bold">e</text>
<text transform="translate(179.71,115.5) scale(1.0592,1)" font-size="33.73">Coding strand</text>
<text transform="translate(147.69,168.8) scale(1.0563,1)" font-size="33.73">Template strand</text>
<text transform="translate(541.41,25.1) scale(0.9519,1)" font-size="33.33">+1</text>
<text transform="translate(1033.15,23) scale(0.9317,1)" font-size="33.33">+1</text>
<text id="one0" clip-path="url(#clipone0)" transform="translate(980.25,56.9) scale(0.9822,1)" font-size="36.81">c1</text>
<text transform="translate(574.2,139.3)" font-size="35.27" font-style="italic">phaR</text>
<text transform="translate(775.91,138.3) scale(1.0109,1)" font-size="35.27" font-style="italic">phaP</text>
<text transform="translate(1063.7,139.4)" font-size="35.27" font-style="italic">phaE</text>
<text transform="translate(1264.7,137.6) scale(0.9964,1)" font-size="35.27" font-style="italic">phaC</text>
<text transform="translate(940.29,139.6) scale(0.9631,1)" font-size="36.81">TATA</text>
<text id="one1" clip-path="url(#clipone1)" transform="translate(1070.65,216.8) scale(1.0121,1)" font-size="36.81">t1</text>
<text transform="translate(377.98,298.9) scale(1.0103,1)" font-size="28.56" font-style="italic">phaE</text>
<text id="one2" clip-path="url(#clipone2)" transform="translate(189.07,362.5) scale(0.9954,1)" font-size="38.2">1.0</text>
<text transform="translate(189.5,533) scale(0.9791,1)" font-size="38.2">0.5</text>
<text transform="translate(189.2,703.7) scale(0.9811,1)" font-size="38.2">0.0</text>
<text id="one3" clip-path="url(#clipone3)" transform="translate(271.28,335.3) scale(1.0188,1)" font-size="27.76">1.00</text>
<text transform="translate(346.08,530.1) scale(1.0090,1)" font-size="27.76">0.43</text>
<text transform="translate(418.15,506.7) scale(1.0361,1)" font-size="27.76">0.48</text>
<text transform="translate(278.18,742.8)" font-size="38.87">no</text>
<text id="one4" clip-path="url(#clipone4)" transform="translate(357.21,742.8) scale(1.0201,1)" font-size="38.87">t1</text>
<text id="one5" clip-path="url(#clipone5)" transform="translate(425.72,742.8) scale(1.0162,1)" font-size="38.87">c1</text>
<text transform="translate(687.19,298.9) scale(1.0300,1)" font-size="28.56" font-style="italic">phaC</text>
<text id="one6" clip-path="url(#clipone6)" transform="translate(552.77,365.7) scale(0.9954,1)" font-size="38.2">1.0</text>
<text transform="translate(553.5,536.5) scale(0.9791,1)" font-size="38.2">0.5</text>
<text transform="translate(553.5,706.7) scale(0.9811,1)" font-size="38.2">0.0</text>
<text id="one7" clip-path="url(#clipone7)" transform="translate(635.63,338.5)" font-size="27.76">1.00</text>
<text transform="translate(710.09,564.5)" font-size="27.76">0.34</text>
<text transform="translate(782.77,580.1) scale(1.0167,1)" font-size="27.76">0.29</text>
<text transform="translate(641.98,745.9)" font-size="38.87">no</text>
<text id="one8" clip-path="url(#clipone8)" transform="translate(720.41,745.9) scale(1.0201,1)" font-size="38.87">t1</text>
<text id="one9" clip-path="url(#clipone9)" transform="translate(789.42,745.9) scale(1.0193,1)" font-size="38.87">c1</text>
<text transform="translate(1016.58,349.7) scale(0.9773,1)" font-size="33.74">3</text>
<text transform="translate(1016,446.8) scale(1.0050,1)" font-size="33.74">2</text>
<text id="one10" clip-path="url(#clipone10)" transform="translate(1016.11,544.5) scale(1.0103,1)" font-size="33.74">1</text>
<text transform="translate(1017.05,642.5) scale(0.9261,1)" font-size="33.74">0</text>
<text transform="translate(1041.23,677.5) scale(0.9385,1)" font-size="33.74">0</text>
<text transform="translate(1150.8,677.5) scale(1.0050,1)" font-size="33.74">2</text>
<text transform="translate(1261.69,677.5) scale(0.9065,1)" font-size="33.74">4</text>
<text transform="translate(1370.4,677.5) scale(1.0050,1)" font-size="33.74">6</text>
<text transform="translate(1480.27,677.5) scale(0.9837,1)" font-size="33.74">8</text>
<text transform="translate(1194.96,726.9) scale(1.0704,1)" font-size="30">Time (days)</text>
<text transform="translate(1134.82,381) scale(0.9787,1)" font-size="24.49">no crRNA</text>
<text id="one11" clip-path="url(#clipone11)" transform="translate(1134.8,420.3) scale(0.9910,1)" font-size="24.49">phaEC-t1</text>
<text id="one12" clip-path="url(#clipone12)" transform="translate(1134.77,460.5) scale(1.0106,1)" font-size="24.49">phaEC-c1</text>
<text transform="translate(55.21,969.4) scale(1.0606,1)" font-size="33.73">Coding strand</text>
<text transform="translate(24.89,1023.2) scale(1.0542,1)" font-size="33.73">Template strand</text>
<text id="one13" clip-path="url(#clipone13)" transform="translate(404.55,930) scale(0.9854,1)" font-size="36.81">c1</text>
<text id="one14" clip-path="url(#clipone14)" transform="translate(479.03,889.7) scale(0.9529,1)" font-size="37.1">+1</text>
<text transform="translate(581.03,929.2) scale(1.0496,1)" font-size="34.04" font-weight="bold" font-style="italic">citZ</text>
<text transform="translate(380.38,998.5) scale(0.9725,1)" font-size="36.81">TATA</text>
<text transform="translate(525.23,998.9) scale(0.9738,1)" font-size="36.81">HFX_0432</text>
<text id="one15" clip-path="url(#clipone15)" transform="translate(329.2,1070.3) scale(1.0813,1)" font-size="36.81">t1</text>
<text transform="translate(427,1070.5) scale(0.9543,1)" font-size="36.81">t2</text>
<text transform="translate(464.7,1089.5) scale(0.9454,1)" font-size="36.81">t3</text>
<text id="one16" clip-path="url(#clipone16)" transform="translate(1023.02,871.8) scale(0.9551,1)" font-size="37.25">+1</text>
<text id="one17" clip-path="url(#clipone17)" transform="translate(1081.3,927.4) scale(1.0211,1)" font-size="36.81">c1</text>
<text transform="translate(1256.5,926.3) scale(1.0619,1)" font-size="34.04" font-weight="bold" font-style="italic">gltA</text>
<text transform="translate(932.99,999.7) scale(0.9619,1)" font-size="36.81">TATA</text>
<text id="one18" clip-path="url(#clipone18)" transform="translate(1200.83,998.8) scale(0.9740,1)" font-size="36.81">HFX_6170</text>
<text id="one19" clip-path="url(#clipone19)" transform="translate(959.36,1066.9)" font-size="36.81">t1</text>
<text transform="translate(1196.89,1068.4) scale(0.9650,1)" font-size="36.81">t2</text>
<text transform="translate(595.81,1191.7) scale(1.0417,1)" font-size="28.56" font-style="italic">citZ</text>
<text id="one20" clip-path="url(#clipone20)" transform="translate(311.47,1236.2) scale(1.0166,1)" font-size="38.2">1.0</text>
<text transform="translate(311.66,1408.5) scale(1.0091,1)" font-size="38.2">0.5</text>
<text transform="translate(312.6,1580.8) scale(0.9811,1)" font-size="38.2">0.0</text>
<text id="one21" clip-path="url(#clipone21)" transform="translate(388.12,1209.8) scale(1.0679,1)" font-size="23.62">1.00</text>
<text transform="translate(465.05,1289.9)" font-size="23.62">0.75</text>
<text transform="translate(532.56,1548.8) scale(0.9925,1)" font-size="23.62">0.02</text>
<text transform="translate(599.55,1531.5) scale(1.0084,1)" font-size="23.62">0.07</text>
<text transform="translate(666.94,1545.4) scale(1.0152,1)" font-size="23.62">0.03</text>
<text transform="translate(398.26,1619.2) scale(1.0085,1)" font-size="38.87">no</text>
<text id="one22" clip-path="url(#clipone22)" transform="translate(471.79,1619.2) scale(1.0405,1)" font-size="38.87">t1</text>
<text transform="translate(539.55,1619.2) scale(0.9681,1)" font-size="38.87">t2</text>
<text transform="translate(606.96,1619.2) scale(0.9556,1)" font-size="38.87">t3</text>
<text id="one23" clip-path="url(#clipone23)" transform="translate(669.35,1619.2) scale(0.9947,1)" font-size="38.87">c1</text>
<text transform="translate(1262.8,1198.8) scale(1.0189,1)" font-size="28.56" font-style="italic">gltA</text>
<text id="one24" clip-path="url(#clipone24)" transform="translate(1002.6,1231.6) scale(1.0102,1)" font-size="38.2">1.0</text>
<text transform="translate(1003.53,1403.5) scale(0.9651,1)" font-size="38.2">0.5</text>
<text transform="translate(1003.22,1576.4) scale(0.9691,1)" font-size="38.2">0.0</text>
<text id="one25" clip-path="url(#clipone25)" transform="translate(1088.16,1206.7) scale(1.0561,1)" font-size="23.62">1.00</text>
<text transform="translate(1181.44,1533.7) scale(1.0152,1)" font-size="23.62">0.05</text>
<text transform="translate(1264.93,1352.3) scale(1.0243,1)" font-size="23.62">0.56</text>
<text transform="translate(1349.05,1372.6) scale(1.0098,1)" font-size="23.62">0.50</text>
<text transform="translate(1098.73,1615.8) scale(1.0188,1)" font-size="38.87">no</text>
<text id="one26" clip-path="url(#clipone26)" transform="translate(1188.79,1615.8) scale(1.0446,1)" font-size="38.87">t1</text>
<text transform="translate(1272.12,1615.8) scale(1.0054,1)" font-size="38.87">t2</text>
<text id="one27" clip-path="url(#clipone27)" transform="translate(1351.72,1615.8) scale(1.0131,1)" font-size="38.87">c1</text>
<text transform="translate(102,633.21) rotate(-90) scale(0.9585,1)" font-size="37.95">Fold change in</text>
<text transform="translate(147.7,647.86) rotate(-90) scale(0.9619,1)" font-size="37.95">gene expression</text>
<text transform="translate(994.5,664.25) rotate(-90) scale(0.9663,1)" font-size="33.01">PHBV concentration (g/L)</text>
<text transform="translate(232.9,1508.62) rotate(-90) scale(0.9451,1)" font-size="38.63">Fold change in</text>
<text transform="translate(279.4,1525.88) rotate(-90) scale(0.9747,1)" font-size="37.95">gene expression</text>
</g>
</svg>
</body></html>
